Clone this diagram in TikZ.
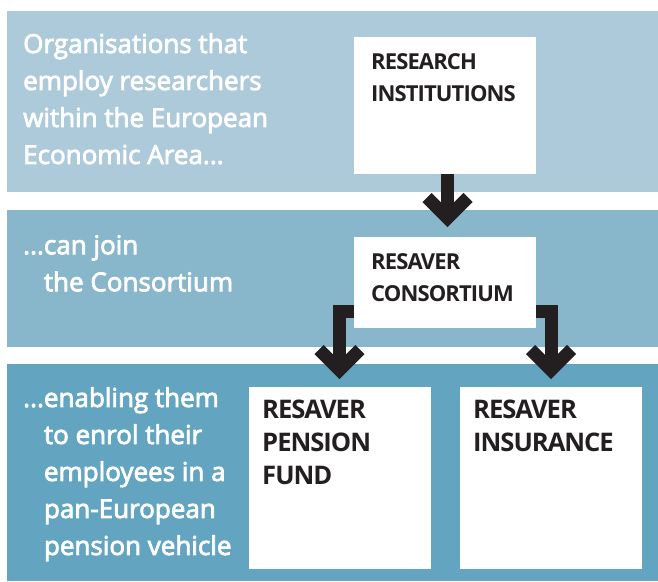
\documentclass[tikz,border=0pt]{standalone}
\usepackage{fontspec}
\usetikzlibrary{calc}
\setmainfont{Open Sans}
\newfontfamily\whitefont[FakeBold=3]{Open Sans}
\newfontfamily\labfont[LetterSpace=-4]{Open Sans}
\definecolor{bandA}{HTML}{ADCADB}
\definecolor{bandB}{HTML}{88B6CA}
\definecolor{bandC}{HTML}{63A5C1}
\definecolor{ink}{HTML}{231F20}
\tikzset{
  whitebox/.style={fill=white, draw=none, inner sep=0pt, anchor=north west},
  wtext/.style={text=white, anchor=north west, inner sep=0pt, align=left, font=\whitefont\fontsize{26}{37}\selectfont},
  labtext/.style={text=ink, anchor=north west, inner sep=0pt, align=left, font=\labfont\bfseries\fontsize{22}{32}\selectfont},
  biglabtext/.style={text=ink, anchor=north west, inner sep=0pt, align=left, font=\labfont\bfseries\fontsize{25.6}{33}\selectfont},
  fatline/.style={draw=ink, line width=13pt, miter limit=10, line join=miter, line cap=butt},
}
\begin{document}
\begin{tikzpicture}[x=1pt,y=-1pt]
\useasboundingbox (0,0) rectangle (658,581);
% bands
\fill[bandA] (7,11) rectangle (658,192);
\fill[bandB] (7,210) rectangle (658,347);
\fill[bandC] (7,364) rectangle (658,581);
% coordinates for arrows
\coordinate (v1) at (447.5,218);
\coordinate (l1) at (339.5,311);
\coordinate (v2) at (339.5,370);
\coordinate (r1) at (551,311);
\coordinate (v3) at (551,370);
% boxes (as named nodes)
\node[whitebox, minimum width=182pt, minimum height=137pt] (ri) at (354,37) {};
\node[whitebox, minimum width=182pt, minimum height=91pt] (rc) at (354,237) {};
\node[whitebox, minimum width=182pt, minimum height=182pt] (pf) at (249,387) {};
\node[whitebox, minimum width=182pt, minimum height=182pt] (ins) at (460,387) {};
% arrows
\draw[fatline] (ri.south -| v1) -- (v1);
\draw[fatline] ($(v1)+(-20.5,-20.5)$) -- (v1) -- ($(v1)+(20.5,-20.5)$);
\draw[fatline] (rc.west |- l1) -- (l1) -- (v2);
\draw[fatline] ($(v2)+(-20.5,-20.5)$) -- (v2) -- ($(v2)+(20.5,-20.5)$);
\draw[fatline] (rc.east |- r1) -- (r1) -- (v3);
\draw[fatline] ($(v3)+(-20.5,-20.5)$) -- (v3) -- ($(v3)+(20.5,-20.5)$);
% redraw boxes on top
\fill[white] (ri.north west) rectangle (ri.south east);
\fill[white] (rc.north west) rectangle (rc.south east);
% labels
\node[labtext] (riT) at (371,53) {RESEARCH\\INSTITUTIONS};
\node[labtext] (rcT) at (371,253) {RESAVER\\CONSORTIUM};
\node[biglabtext] (pfT) at (262,400) {RESAVER\\PENSION\\FUND};
\node[biglabtext] (insT) at (473,400) {RESAVER\\INSURANCE};
% white texts
\node[wtext] (t1) at (23,33) {Organisations that\\employ researchers\\within the European\\Economic Area...};
\node[wtext] (t2) at (23,235) {...can join\\\hphantom{...}the Consortium};
\node[wtext] (t3) at (23,387) {...enabling them\\\hphantom{...}to enrol their\\\hphantom{...}employees in a\\\hphantom{...}pan-European\\\hphantom{...}pension vehicle};
\end{tikzpicture}
\end{document}
